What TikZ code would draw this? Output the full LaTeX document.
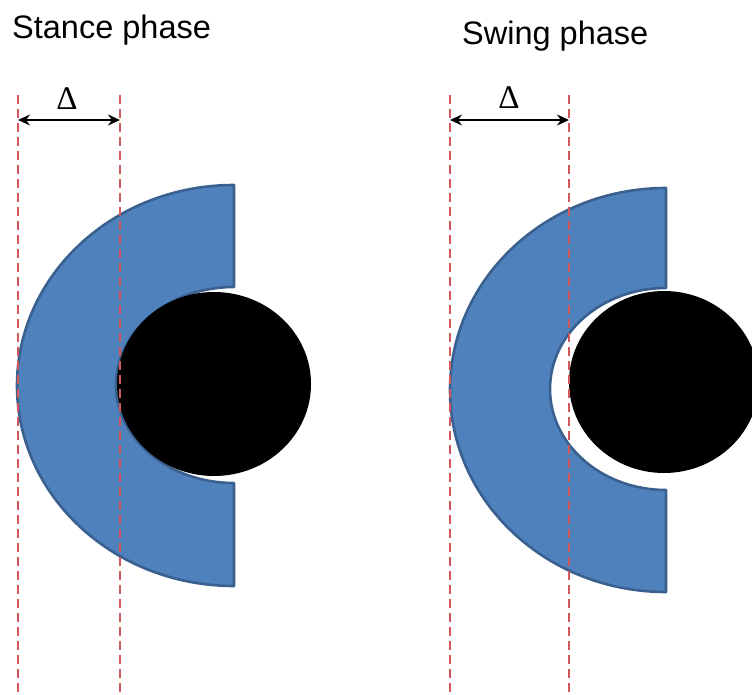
\documentclass[tikz,border=0pt]{standalone}
\usepackage{fontspec}
\setmainfont{Liberation Sans}
\newfontfamily\deltafont{Liberation Serif}
\usetikzlibrary{positioning,arrows.meta}
\definecolor{cupblue}{HTML}{4F81BD}
\definecolor{cupedge}{HTML}{3A6090}
\definecolor{guidered}{HTML}{D2595B}

\begin{document}
\begin{tikzpicture}[x=1pt, y=-1pt,
                    cup/.style={fill=cupblue, draw=cupedge, line width=2.6pt, line join=round},
                    pin/.style={fill=black},
                    guide/.style={draw=guidered, line width=1.2pt, dash pattern=on 9pt off 5pt},
                    gap/.style={{Stealth[length=12pt,width=11pt]}-{Stealth[length=12pt,width=11pt]}, line width=1.6pt},
                    title/.style={font=\fontsize{32.5}{38}\selectfont, anchor=base west, inner sep=0pt},
                    delta/.style={font=\deltafont\fontsize{33}{36}\selectfont, inner sep=0pt}]
  \useasboundingbox (0,0) rectangle (752,695);
  \clip (0,0) rectangle (752,695);
  % stance phase
  \draw[cup] (234,185) arc[start angle=-90, end angle=-270, x radius=217, y radius=200.5]
             -- (234,483) arc[start angle=90, end angle=270, x radius=118, y radius=98] -- cycle;
  \fill[pin] (214,384) ellipse[x radius=97, y radius=92];
  % swing phase
  \draw[cup] (666,188) arc[start angle=-90, end angle=-270, x radius=216, y radius=202]
             -- (666,490) arc[start angle=90, end angle=270, x radius=116, y radius=101] -- cycle;
  \fill[pin] (664,382) ellipse[x radius=95, y radius=91];
  % guide lines
  \foreach \x in {18,120,450,569} \draw[guide] (\x,95) -- (\x,695);
  \node[title] (stance) at (12,39) {Stance phase};
  \node[title] (swing) at (462,45) {Swing phase};
  \coordinate (stA) at (18,120);
  \coordinate (stB) at (120,120);
  \coordinate (swA) at (450,120);
  \coordinate (swB) at (569,120);
  \draw[gap] (stA) -- (stB);
  \draw[gap] (swA) -- (swB);
  \node[delta] (dst) at (67,99) {Δ};
  \node[delta] (dsw) at (509,98) {Δ};
\end{tikzpicture}
\end{document}
